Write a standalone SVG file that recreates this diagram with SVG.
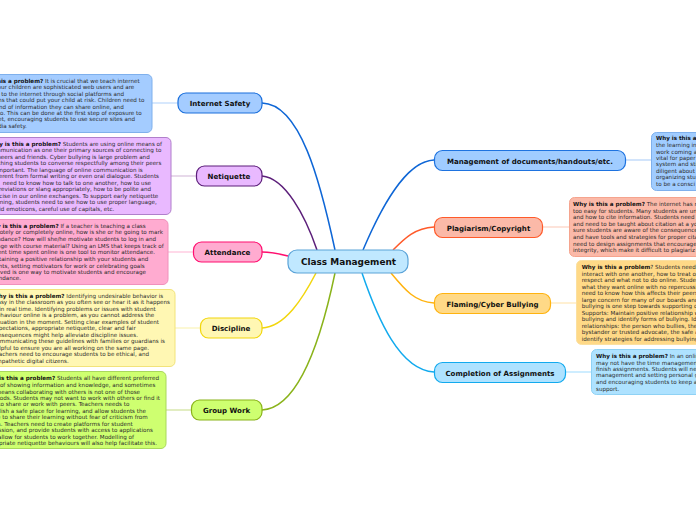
<svg xmlns="http://www.w3.org/2000/svg" width="696" height="520" viewBox="0 0 696 520">
<style>
text{font-family:"DejaVu Sans",sans-serif;fill:#111}
.n{font-size:7.05px;font-weight:700;text-anchor:middle}
.c{font-size:8.95px;font-weight:700;text-anchor:middle}
.t{font-size:5.6px;fill:#2a2a2a}
.e{text-anchor:end}
.b{font-weight:700;fill:#111}
.l{fill:none;stroke-width:1.5}
.s{fill:none;stroke-width:1.2}
.k{stroke-width:1.2}
</style>
<rect width="696" height="520" fill="#fff"/>
<g id="connectors">
<path class="l" stroke="#0e66d6" d="M262 103C300 104 320 180 335 250"/>
<path class="l" stroke="#5c1f7a" d="M262 176C285 178 305 215 317 250"/>
<path class="l" stroke="#ff0f6f" d="M262 252C272 252 280 254 288 256"/>
<path class="l" stroke="#f2d60d" d="M262 328C285 327 303 298 316 273"/>
<path class="l" stroke="#8ab31a" d="M262 410C300 408 322 335 335 273"/>
<path class="l" stroke="#0e66d6" d="M434 160C405 161 380 210 363 250"/>
<path class="l" stroke="#ff5a2a" d="M434 227C415 228 405 238 393 250"/>
<path class="l" stroke="#ffb30f" d="M434 303C415 302 405 290 391 273"/>
<path class="l" stroke="#12aaee" d="M434 372C400 370 378 320 362 273"/>
<path class="s" stroke="#bcd8fb" d="M152 103H178"/>
<path class="s" stroke="#d8c0dc" d="M171 176H196"/>
<path class="s" stroke="#ffc0da" d="M168 252H193"/>
<path class="s" stroke="#fbf4b8" d="M175 328H200"/>
<path class="s" stroke="#cfe29a" d="M166 410H191"/>
<path class="s" stroke="#b4d2f8" d="M625 160H651"/>
<path class="s" stroke="#fcd0c2" d="M542 227H569"/>
<path class="s" stroke="#ffe6b4" d="M551 303H576"/>
<path class="s" stroke="#aee2ff" d="M565 372H591"/>
</g>
<g id="center"><rect class="k" x="288" y="250" width="120" height="23" rx="9" fill="#c0e8ff" stroke="#5aa3d8"/><text class="c" x="348.500" y="265">Class Management</text></g>
<g id="internet-safety"><rect class="k" x="178" y="93" width="84" height="20" rx="8" fill="#a4ccff" stroke="#1a6fdc"/><text class="n" x="220" y="106">Internet Safety</text></g>
<g id="netiquette"><rect class="k" x="196.500" y="166" width="65.500" height="20" rx="8" fill="#e9b9ff" stroke="#5c1f7a"/><text class="n" x="229" y="179">Netiquette</text></g>
<g id="attendance"><rect class="k" x="193.500" y="242" width="68.500" height="20" rx="8" fill="#ffabd0" stroke="#ff0f6f"/><text class="n" x="227.500" y="255">Attendance</text></g>
<g id="discipline"><rect class="k" x="200.500" y="318" width="61.500" height="20" rx="8" fill="#fff7b3" stroke="#f2d60d"/><text class="n" x="231" y="331">Discipline</text></g>
<g id="group-work"><rect class="k" x="191.500" y="400" width="70.500" height="20" rx="8" fill="#ceff70" stroke="#8ab31a"/><text class="n" x="226.500" y="413">Group Work</text></g>
<g id="management"><rect class="k" x="434.500" y="150.500" width="191" height="20" rx="8" fill="#a0ccff" stroke="#1e73e0"/><text class="n" x="530" y="163.500">Management of documents/handouts/etc.</text></g>
<g id="plagiarism"><rect class="k" x="434.500" y="217.500" width="108" height="20" rx="8" fill="#fbb9a8" stroke="#ff5a2a"/><text class="n" x="488.500" y="230.500">Plagiarism/Copyright</text></g>
<g id="flaming"><rect class="k" x="434.500" y="293.500" width="116" height="20" rx="8" fill="#ffd987" stroke="#ffb30f"/><text class="n" x="492.500" y="306.500">Flaming/Cyber Bullying</text></g>
<g id="completion"><rect class="k" x="434.500" y="362.500" width="131" height="20" rx="8" fill="#aee2ff" stroke="#12aaee"/><text class="n" x="500" y="375.500">Completion of Assignments</text></g>
<g id="internet-safety-note"><rect x="-40" y="74.500" width="192" height="58" rx="5" fill="#a4ccff" stroke="#7fb0ec"/>
<text class="t e" x="139.700" y="82.700"><tspan class="b">Why is this a problem?</tspan> It is crucial that we teach internet</text>
<text class="t e" x="134.300" y="89.300">our children are sophisticated web users and are</text>
<text class="t e" x="124" y="95.700">connected to the internet through social platforms and</text>
<text class="t e" x="144.300" y="102">programs that could put your child at risk. Children need to</text>
<text class="t e" x="123.700" y="108.700">what kind of information they can share online, and</text>
<text class="t e" x="141.700" y="115">who to. This can be done at the first step of exposure to</text>
<text class="t e" x="135" y="121.300">internet, encouraging students to use secure sites and</text>
<text class="t e" x="26.700" y="127.700">media safety.</text></g>
<g id="netiquette-note"><rect x="-40" y="137.500" width="211" height="77" rx="5" fill="#e9b9ff" stroke="#b07fca"/>
<text class="t e" x="162" y="145.700"><tspan class="b">Why is this a problem?</tspan> Students are using online means of</text>
<text class="t e" x="161.300" y="152.300">communication as one their primary sources of connecting to</text>
<text class="t e" x="149.700" y="159">peers and friends. Cyber bullying is large problem and</text>
<text class="t e" x="161.300" y="165.300">teaching students to converse respectfully among their peers</text>
<text class="t e" x="142.700" y="171.700">is important. The language of online communication is</text>
<text class="t e" x="159" y="178">different from formal writing or even oral dialogue. Students</text>
<text class="t e" x="151" y="184.700">need to know how to talk to one another, how to use</text>
<text class="t e" x="151" y="191.300">abbreviations or slang appropriately, how to be polite and</text>
<text class="t e" x="158.300" y="197.700">concise in our online exchanges. To support early netiquette</text>
<text class="t e" x="156.700" y="204">learning, students need to see how to use proper language,</text>
<text class="t e" x="114.300" y="211">avoid emoticons, careful use of capitals, etc.</text></g>
<g id="attendance-note"><rect x="-40" y="219.500" width="208" height="65" rx="5" fill="#ffabd0" stroke="#f090bc"/>
<text class="t e" x="145.700" y="228"><tspan class="b">Why is this a problem?</tspan> If a teacher is teaching a class</text>
<text class="t e" x="163" y="234.300">remotely or completely online, how is she or he going to mark</text>
<text class="t e" x="156" y="241">attendance? How will she/he motivate students to log in and</text>
<text class="t e" x="163.700" y="247.700">engage with course material? Using an LMS that keeps track of</text>
<text class="t e" x="155" y="254.300">student time spent online is one tool to monitor attendance.</text>
<text class="t e" x="148.300" y="261">Maintaining a positive relationship with your students and</text>
<text class="t e" x="144.700" y="267.700">parents, setting motivators for work or celebrating goals</text>
<text class="t e" x="146" y="274">achieved is one way to motivate students and encourage</text>
<text class="t e" x="21" y="280.300">attendance.</text></g>
<g id="discipline-note"><rect x="-40" y="289.500" width="215" height="77" rx="5" fill="#fff7b3" stroke="#f2e37a"/>
<text class="t e" x="163.300" y="298"><tspan class="b">Why is this a problem?</tspan> Identifying undesirable behavior is</text>
<text class="t e" x="170" y="304.300">easy in the classroom as you often see or hear it as it happens</text>
<text class="t e" x="155.700" y="310.700">in real time. Identifying problems or issues with student</text>
<text class="t e" x="154.300" y="317">behaviour online is a problem, as you cannot address the</text>
<text class="t e" x="159" y="324">situation in the moment. Setting clear examples of student</text>
<text class="t e" x="135.700" y="330.300">expectations, appropriate netiquette, clear and fair</text>
<text class="t e" x="138" y="337">consequences might help alleviate discipline issues.</text>
<text class="t e" x="165" y="343.300">Communicating these guidelines with families or guardians is</text>
<text class="t e" x="149" y="349.700">helpful to ensure you are all working on the same page.</text>
<text class="t e" x="149" y="356.300">Teachers need to encourage students to be ethical, and</text>
<text class="t e" x="68.700" y="363">empathetic digital citizens.</text></g>
<g id="group-work-note"><rect x="-40" y="371.500" width="206" height="77" rx="5" fill="#ceff70" stroke="#a9d85c"/>
<text class="t e" x="159" y="380"><tspan class="b">Why is this a problem?</tspan> Students all have different preferred</text>
<text class="t e" x="155.300" y="386.700">ways of showing information and knowledge, and sometimes</text>
<text class="t e" x="140" y="393.700">this means collaborating with others is not one of those</text>
<text class="t e" x="160" y="400.300">methods. Students may not want to work with others or find it</text>
<text class="t e" x="129.300" y="406.300">difficult to share or work with peers. Teachers needs to</text>
<text class="t e" x="146" y="413">establish a safe place for learning, and allow students the</text>
<text class="t e" x="147.700" y="419.300">chance to share their learning without fear of criticism from</text>
<text class="t e" x="132.700" y="426">others. Teachers need to create platforms for student</text>
<text class="t e" x="153" y="432.300">discussion, and provide students with access to applications</text>
<text class="t e" x="134" y="438.700">that allow for students to work together. Modelling of</text>
<text class="t e" x="157" y="445">appropriate netiquette behaviours will also help facilitate this.</text></g>
<g id="management-note"><rect x="651.500" y="132.500" width="80" height="58" rx="5" fill="#a0ccff" stroke="#7fb0ec"/>
<text class="t" x="656" y="140"><tspan class="b">Why is this a problem?</tspan></text>
<text class="t" x="656" y="147">the learning in</text>
<text class="t" x="656" y="153.700">work coming a</text>
<text class="t" x="656" y="160.300">vital for paper</text>
<text class="t" x="656" y="166.300">system and sti</text>
<text class="t" x="656" y="172.700">diligent about</text>
<text class="t" x="656" y="179.300">organizing stu</text>
<text class="t" x="656" y="186">to be a consci</text></g>
<g id="plagiarism-note"><rect x="569.500" y="197.500" width="160" height="59" rx="5" fill="#fbb9a8" stroke="#f5a48e"/>
<text class="t" x="573" y="206.300"><tspan class="b">Why is this a problem?</tspan> The internet has m</text>
<text class="t" x="573" y="213">too easy for students. Many students are un</text>
<text class="t" x="573" y="219.300">and how to cite information. Students need</text>
<text class="t" x="573" y="226">and need to be taught about citation at a yo</text>
<text class="t" x="573" y="232.300">sure students are aware of the consequence</text>
<text class="t" x="573" y="239">and have tools and strategies for proper cita</text>
<text class="t" x="573" y="245.700">need to design assignments that encourage</text>
<text class="t" x="573" y="252">integrity, which make it difficult to plagiariz</text></g>
<g id="flaming-note"><rect x="576.500" y="260.500" width="160" height="84" rx="5" fill="#ffd987" stroke="#fbe0a0"/>
<text class="t" x="581.700" y="269"><tspan class="b">Why is this a problem</tspan>? Students need</text>
<text class="t" x="581.700" y="276.300">interact with one another, how to treat or</text>
<text class="t" x="581.700" y="282">respect and what not to do online. Studen</text>
<text class="t" x="581.700" y="288.700">what they want online with no repercussio</text>
<text class="t" x="581.700" y="295.300">need to know how this affects their peers</text>
<text class="t" x="581.700" y="301.700">large concern for many of our boards and</text>
<text class="t" x="581.700" y="308.300">bullying is one step towards supporting o</text>
<text class="t" x="581.700" y="314.700">Supports: Maintain positive relationship w</text>
<text class="t" x="581.700" y="321.300">bullying and identify forms of bullying. Ide</text>
<text class="t" x="581.700" y="328">relationships: the person who bullies, the</text>
<text class="t" x="581.700" y="334.300">bystander or trusted advocate, the safe a</text>
<text class="t" x="581.700" y="341">identify strategies for addressing bullying</text></g>
<g id="completion-note"><rect x="591.500" y="349.500" width="160" height="45" rx="5" fill="#aee2ff" stroke="#8fd2f5"/>
<text class="t" x="596" y="358"><tspan class="b">Why is this a problem?</tspan> In an onlin</text>
<text class="t" x="596" y="364.700">may not have the time management</text>
<text class="t" x="596" y="371">finish assignments. Students will ne</text>
<text class="t" x="596" y="377.300">management and setting personal g</text>
<text class="t" x="596" y="384">and encouraging students to keep a</text>
<text class="t" x="596" y="390.500">support.</text></g>
</svg>
